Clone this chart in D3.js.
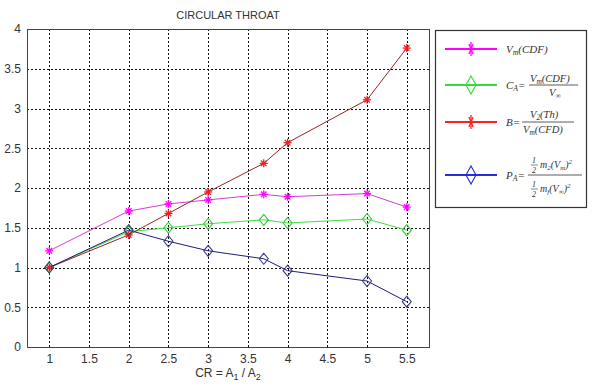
<!DOCTYPE html>
<html>
<head>
<meta charset="utf-8">
<script src="https://cdn.jsdelivr.net/npm/d3@7"></script>
<style>
  html, body { margin: 0; padding: 0; background: #fff; }
  svg { display: block; }
  .tick text { font-family: Arial, "Liberation Sans", sans-serif; font-size: 12px; fill: #333; }
  .leg { font-family: "Liberation Serif", "Times New Roman", serif; font-style: italic; fill: #333; }
</style>
</head>
<body>
<svg id="chart" width="592" height="387"></svg>
<script>
// CIRCULAR THROAT — four series vs contraction ratio CR.
const cr = [1, 2, 2.5, 3, 3.7, 4, 5, 5.5];
const vmCdf = [1.21, 1.71, 1.80, 1.85, 1.92, 1.89, 1.93, 1.76];
const cA    = [1.00, 1.45, 1.50, 1.55, 1.60, 1.56, 1.61, 1.47];
const bRat  = [1.00, 1.41, 1.68, 1.95, 2.31, 2.57, 3.11, 3.76];
const pA    = [1.00, 1.47, 1.33, 1.21, 1.11, 0.96, 0.83, 0.57];
const xTicks = [1, 1.5, 2, 2.5, 3, 3.5, 4, 4.5, 5, 5.5];
const yTicks = [0, 0.5, 1, 1.5, 2, 2.5, 3, 3.5, 4];

const series = [
  { values: vmCdf, line: '#d83cd8', mark: '#ff00ff', legend: '#ff00ff', marker: 'star' },
  { values: cA,    line: '#44dd44', mark: '#33cc33', legend: '#33dd33', marker: 'diamond' },
  { values: bRat,  line: '#9c2424', mark: '#ee2020', legend: '#ff2020', marker: 'star' },
  { values: pA,    line: '#1c1c80', mark: '#3a3a8c', legend: '#2a2ae0', marker: 'diamond' },
];

const svg = d3.select('#chart');
const L = 27, R = 429, T = 29, B = 347;
const x = d3.scaleLinear().domain([0.72, 5.78]).range([L, R]);
const y = d3.scaleLinear().domain([0, 4]).range([B, T]);

// grid
const grid = svg.append('g').attr('stroke', '#111').attr('stroke-width', 1)
  .attr('stroke-dasharray', '2,2');
grid.selectAll('.gx').data(xTicks).join('line')
  .attr('x1', d => Math.round(x(d)) + 0.5).attr('x2', d => Math.round(x(d)) + 0.5)
  .attr('y1', T).attr('y2', B);
grid.selectAll('.gy').data(yTicks.filter(d => d > 0 && d < 4)).join('line')
  .attr('y1', d => Math.round(y(d)) + 0.5).attr('y2', d => Math.round(y(d)) + 0.5)
  .attr('x1', L).attr('x2', R);

// axes
const xAxis = svg.append('g').attr('transform', `translate(0,${B})`)
  .call(d3.axisBottom(x).tickValues(xTicks).tickSize(0).tickPadding(7).tickFormat(d3.format('')));
const yAxis = svg.append('g').attr('transform', `translate(${L},0)`)
  .call(d3.axisLeft(y).tickValues(yTicks).tickSize(0).tickPadding(6).tickFormat(d3.format('')));
xAxis.select('.domain').remove();
yAxis.select('.domain').remove();

// box
svg.append('rect').attr('x', L + 0.5).attr('y', T + 0.5)
  .attr('width', R - L).attr('height', B - T)
  .attr('fill', 'none').attr('stroke', '#444').attr('stroke-width', 1);

svg.append('text').attr('x', 228).attr('y', 19).attr('text-anchor', 'middle')
  .attr('font-family', 'Arial, "Liberation Sans", sans-serif').attr('font-size', 11)
  .attr('fill', '#333').text('CIRCULAR THROAT');

const xl = svg.append('text').attr('x', 228).attr('y', 377).attr('text-anchor', 'middle')
  .attr('font-family', 'Arial, "Liberation Sans", sans-serif').attr('font-size', 12).attr('fill', '#333');
xl.append('tspan').text('CR = A');
xl.append('tspan').attr('font-size', 9).attr('dy', 3).text('1');
xl.append('tspan').attr('dy', -3).text(' / A');
xl.append('tspan').attr('font-size', 9).attr('dy', 3).text('2');

function drawMarker(g, type, color, w, h) {
  if (type === 'star') {
    const p = g.append('g').attr('stroke', color).attr('stroke-width', 1.3);
    p.append('line').attr('x1', -w).attr('x2', w).attr('y1', 0).attr('y2', 0);
    p.append('line').attr('x1', 0).attr('x2', 0).attr('y1', -h).attr('y2', h);
    p.append('line').attr('x1', -w * 0.7).attr('x2', w * 0.7).attr('y1', -h * 0.7).attr('y2', h * 0.7);
    p.append('line').attr('x1', -w * 0.7).attr('x2', w * 0.7).attr('y1', h * 0.7).attr('y2', -h * 0.7);
  } else {
    g.append('polygon').attr('points', `0,${-h} ${w},0 0,${h} ${-w},0`)
      .attr('fill', 'none').attr('stroke', color).attr('stroke-width', 1.1);
  }
}

const line = d3.line().x((d, i) => x(cr[i])).y(d => y(d));
for (const s of series) {
  svg.append('path').datum(s.values).attr('d', line)
    .attr('fill', 'none').attr('stroke', s.line).attr('stroke-width', 1);
}
for (const s of series) {
  svg.append('g').selectAll('g').data(s.values).join('g')
    .attr('transform', (d, i) => `translate(${x(cr[i])},${y(d)})`)
    .each(function () {
      if (s.marker === 'star') drawMarker(d3.select(this), 'star', s.mark, 4, 4);
      else drawMarker(d3.select(this), 'diamond', s.mark, 4.5, 5.5);
    });
}

// legend
const lg = svg.append('g');
lg.append('rect').attr('x', 435.5).attr('y', 30.5).attr('width', 151).attr('height', 177)
  .attr('fill', '#fff').attr('stroke', '#333').attr('stroke-width', 1.2);
const legY = [49, 85, 122, 175];
series.forEach((s, i) => {
  lg.append('line').attr('x1', 445).attr('x2', 497).attr('y1', legY[i]).attr('y2', legY[i])
    .attr('stroke', s.legend).attr('stroke-width', 2);
  const m = lg.append('g').attr('transform', `translate(471,${legY[i]})`);
  if (s.marker === 'star') drawMarker(m, 'star', s.legend, 3, 7);
  else drawMarker(m, 'diamond', s.legend, 5, 9);
});

// parts: strings are normal, {s: '..'} subscript, {p: '..'} superscript
function txt(xp, yp, size, parts) {
  const t = lg.append('text').attr('class', 'leg').attr('x', xp).attr('y', yp).attr('font-size', size);
  let shift = 0;
  for (const part of parts) {
    let target = 0, fs = size, str = part;
    if (typeof part === 'object') {
      if (part.s !== undefined) { target = 2; str = part.s; }
      else { target = -4; str = part.p; }
      fs = size * 0.7;
    }
    t.append('tspan').attr('dy', target - shift).attr('font-size', fs).text(str);
    shift = target;
  }
  return t;
}
function rule(x1, x2, yp) {
  lg.append('line').attr('x1', x1).attr('x2', x2).attr('y1', yp).attr('y2', yp)
    .attr('stroke', '#333').attr('stroke-width', 0.8);
}
function half(xp, yp) {
  txt(xp, yp - 4, 8, ['1']).attr('font-style', 'normal');
  lg.append('line').attr('x1', xp - 1).attr('x2', xp + 6).attr('y1', yp - 2).attr('y2', yp - 2)
    .attr('stroke', '#333').attr('stroke-width', 0.6);
  txt(xp, yp + 6, 8, ['2']).attr('font-style', 'normal');
}

// 1: Vm(CDF)
txt(506, 53, 11, ['V', { s: 'm' }, '(CDF)']);

// 2: CA = Vm(CDF)/V∞
txt(506, 89, 11, ['C', { s: 'A' }, '=']);
txt(530, 82, 10.5, ['V', { s: 'm' }, '(CDF)']);
rule(529, 578, 85);
txt(549, 96, 10.5, ['V', { s: '∞' }]);

// 3: B = V2(Th)/Vm(CFD)
txt(506, 126, 11, ['B=']);
txt(530, 118, 10.5, ['V', { s: '2' }, '(Th)']);
rule(522, 574, 122);
txt(523, 133, 10.5, ['V', { s: 'm' }, '(CFD)']);

// 4: PA = (1/2 m2 (Vm)^2)/(1/2 mf (V∞)^2)
txt(506, 179, 11, ['P', { s: 'A' }, '=']);
half(532, 167);
txt(540, 168, 10, ['m', { s: '2' }, '(V', { s: 'm' }, ')', { p: '2' }]);
rule(528, 582, 175);
half(532, 191);
txt(540, 192, 10, ['m', { s: 'f' }, '(V', { s: '∞' }, ')', { p: '2' }]);
</script>
</body>
</html>
